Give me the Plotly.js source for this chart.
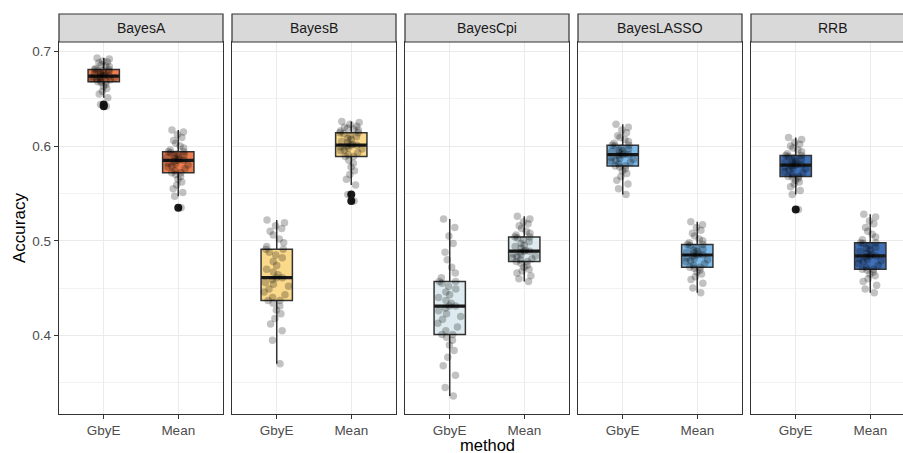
<!DOCTYPE html>
<html>
<head>
<meta charset="utf-8">
<script src="https://cdn.plot.ly/plotly-3.0.1.min.js"></script>
<style>
html,body{margin:0;padding:0;background:#fff;overflow:hidden;width:903px;height:453px;}
#chart{width:915px;height:453px;}
</style>
</head>
<body>
<div id="chart"></div>
<script>
// ---- data ----
const models = ['BayesA', 'BayesB', 'BayesCpi', 'BayesLASSO', 'RRB'];
const methods = ['GbyE', 'Mean'];
const yTickVals = [0.4, 0.5, 0.6, 0.7];
const yTickText = ['0.4', '0.5', '0.6', '0.7'];

const bayesA_GbyE = [0.642,0.644,0.651,0.655,0.658,0.661,0.663,0.665,0.667,0.668,0.668,0.669,0.670,0.671,0.671,0.672,0.672,0.673,0.673,0.674,0.674,0.675,0.676,0.676,0.677,0.678,0.679,0.680,0.680,0.681,0.681,0.682,0.684,0.685,0.686,0.688,0.689,0.690,0.692,0.693];
const bayesA_Mean = [0.535,0.547,0.551,0.555,0.559,0.562,0.565,0.568,0.570,0.572,0.572,0.574,0.576,0.578,0.579,0.580,0.581,0.582,0.584,0.585,0.585,0.586,0.587,0.588,0.589,0.590,0.591,0.592,0.593,0.594,0.594,0.596,0.598,0.600,0.603,0.606,0.609,0.612,0.615,0.617];
const bayesB_GbyE = [0.370,0.395,0.405,0.412,0.418,0.423,0.427,0.431,0.434,0.437,0.437,0.440,0.443,0.446,0.449,0.452,0.454,0.456,0.459,0.461,0.461,0.464,0.467,0.470,0.474,0.478,0.482,0.485,0.488,0.491,0.491,0.494,0.498,0.502,0.506,0.510,0.513,0.516,0.519,0.522];
const bayesB_Mean = [0.542,0.549,0.559,0.565,0.570,0.574,0.578,0.582,0.585,0.589,0.589,0.591,0.593,0.595,0.596,0.597,0.598,0.599,0.600,0.601,0.601,0.602,0.604,0.605,0.607,0.608,0.610,0.611,0.613,0.614,0.614,0.616,0.617,0.618,0.619,0.620,0.621,0.623,0.625,0.626];
const bayesCpi_GbyE = [0.336,0.345,0.358,0.368,0.377,0.384,0.390,0.395,0.398,0.401,0.401,0.405,0.409,0.413,0.417,0.420,0.423,0.426,0.429,0.431,0.431,0.434,0.437,0.440,0.443,0.446,0.449,0.452,0.455,0.457,0.457,0.461,0.466,0.472,0.480,0.488,0.497,0.505,0.514,0.523];
const bayesCpi_Mean = [0.457,0.460,0.463,0.466,0.468,0.470,0.472,0.474,0.476,0.478,0.478,0.480,0.481,0.482,0.483,0.484,0.485,0.486,0.488,0.489,0.489,0.490,0.492,0.494,0.495,0.497,0.499,0.501,0.503,0.504,0.504,0.506,0.508,0.510,0.513,0.516,0.518,0.520,0.523,0.526];
const bayesLASSO_GbyE = [0.549,0.555,0.560,0.564,0.568,0.571,0.574,0.576,0.578,0.579,0.579,0.581,0.583,0.584,0.585,0.586,0.587,0.588,0.590,0.591,0.591,0.592,0.593,0.594,0.595,0.596,0.597,0.598,0.600,0.601,0.601,0.603,0.605,0.607,0.609,0.611,0.614,0.617,0.620,0.623];
const bayesLASSO_Mean = [0.445,0.450,0.455,0.459,0.462,0.465,0.467,0.469,0.471,0.472,0.472,0.474,0.476,0.478,0.479,0.480,0.481,0.482,0.484,0.485,0.485,0.486,0.487,0.488,0.489,0.490,0.491,0.493,0.495,0.496,0.496,0.498,0.500,0.502,0.505,0.508,0.511,0.514,0.517,0.520];
const rrb_GbyE = [0.533,0.549,0.553,0.557,0.560,0.562,0.564,0.566,0.567,0.568,0.568,0.570,0.572,0.573,0.575,0.576,0.577,0.578,0.579,0.580,0.580,0.581,0.582,0.583,0.584,0.585,0.586,0.588,0.589,0.590,0.590,0.592,0.594,0.596,0.598,0.600,0.602,0.604,0.607,0.609];
const rrb_Mean = [0.445,0.449,0.453,0.457,0.460,0.463,0.465,0.467,0.469,0.470,0.470,0.472,0.474,0.476,0.478,0.479,0.480,0.481,0.483,0.484,0.484,0.486,0.487,0.489,0.490,0.492,0.493,0.495,0.497,0.498,0.498,0.501,0.504,0.507,0.510,0.514,0.518,0.521,0.525,0.528];

const groups = [
  [bayesA_GbyE, bayesA_Mean],
  [bayesB_GbyE, bayesB_Mean],
  [bayesCpi_GbyE, bayesCpi_Mean],
  [bayesLASSO_GbyE, bayesLASSO_Mean],
  [rrb_GbyE, rrb_Mean]
];

// ---- styles ----
const fills = ['#EE7E4E', '#FBD98A', '#DDEBF0', '#7DBBEA', '#3E70B8'];
const FONT = '"Liberation Sans", Arial, Helvetica, sans-serif';
const W = 915, H = 453, ML = 59, MR = 0, MT = 42, MB = 39;
const PW = W - ML - MR, PH = H - MT - MB;
const panelW = 164, gap = 9;
const BOXW = 0.42;

function median(a) {
  const s = a.slice().sort((p, q) => p - q);
  const n = s.length;
  return n % 2 ? s[(n - 1) / 2] : (s[n / 2 - 1] + s[n / 2]) / 2;
}

const traces = [];
const layout = {
  width: W, height: H,
  margin: {l: ML, r: MR, t: MT, b: MB, pad: 0},
  paper_bgcolor: '#fff', plot_bgcolor: '#fff',
  showlegend: false,
  boxmode: 'overlay',
  font: {family: FONT, size: 14, color: '#4D4D4D'},
  shapes: [], annotations: []
};

models.forEach((m, i) => {
  const xa = i === 0 ? 'x' : 'x' + (i + 1);
  const ya = i === 0 ? 'y' : 'y' + (i + 1);
  const d0 = (i * (panelW + gap)) / PW;
  const dEnd = (i * (panelW + gap) + panelW) / PW;
  const d1 = Math.min(1, dEnd);

  layout[i === 0 ? 'xaxis' : 'xaxis' + (i + 1)] = {
    domain: [d0, d1], anchor: ya, type: 'category',
    categoryorder: 'array', categoryarray: methods,
    range: [-0.6, 1.6], fixedrange: true,
    showgrid: true, gridcolor: '#EBEBEB', gridwidth: 1,
    showline: true, mirror: true, linecolor: '#333333', linewidth: 1.2,
    ticks: 'outside', ticklen: 3.5, tickwidth: 1.2, tickcolor: '#333333',
    tickfont: {family: FONT, size: 13.5, color: '#4D4D4D'},
    zeroline: false
  };
  layout[i === 0 ? 'yaxis' : 'yaxis' + (i + 1)] = {
    domain: [0, 1], anchor: xa,
    range: [0.317, 0.710], fixedrange: true,
    tickmode: 'array', tickvals: yTickVals, ticktext: yTickText,
    showticklabels: i === 0,
    ticks: i === 0 ? 'outside' : '', ticklen: 4, tickwidth: 1.2, tickcolor: '#333333',
    tickfont: {family: FONT, size: 13.5, color: '#4D4D4D'},
    showgrid: true, gridcolor: '#EBEBEB', gridwidth: 1,
    minor: {tickmode: 'linear', tick0: 0.05, dtick: 0.1, showgrid: true, gridcolor: '#F2F2F2', gridwidth: 1, ticks: ''},
    showline: true, mirror: true, linecolor: '#333333', linewidth: 1.2,
    zeroline: false
  };

  // strip
  layout.shapes.push({
    type: 'rect', xref: 'paper', yref: 'paper',
    x0: d0, x1: dEnd, y0: 1, y1: 1 + 28 / PH,
    fillcolor: '#D9D9D9', line: {color: '#333333', width: 1.2}, layer: 'above'
  });
  layout.annotations.push({
    xref: 'paper', yref: 'paper',
    x: (d0 + dEnd) / 2, y: 1 + 14 / PH,
    xanchor: 'center', yanchor: 'middle', showarrow: false,
    text: m, font: {family: FONT, size: 14, color: '#1A1A1A'}
  });

  methods.forEach((meth, j) => {
    const vals = groups[i][j];
    const xs = vals.map(() => meth);
    // box with outliers
    traces.push({
      type: 'box', x: xs, y: vals, xaxis: xa, yaxis: ya,
      width: BOXW, whiskerwidth: 0,
      boxpoints: 'outliers', pointpos: 0, jitter: 0,
      fillcolor: fills[i],
      line: {color: '#333333', width: 1.5},
      marker: {color: '#1A1A1A', size: 8, line: {width: 0}},
      hoverinfo: 'skip'
    });
    // thick median line
    const md = median(vals);
    traces.push({
      type: 'box', x: [meth], xaxis: xa, yaxis: ya,
      q1: [md], median: [md], q3: [md], lowerfence: [md], upperfence: [md],
      width: BOXW, whiskerwidth: 0, boxpoints: false,
      fillcolor: 'rgba(0,0,0,0)',
      line: {color: '#1A1A1A', width: 3.2},
      hoverinfo: 'skip'
    });
    // jittered points
    traces.push({
      type: 'box', x: xs, y: vals, xaxis: xa, yaxis: ya,
      width: BOXW, whiskerwidth: 0,
      boxpoints: 'all', pointpos: 0, jitter: 0.85,
      fillcolor: 'rgba(0,0,0,0)',
      line: {color: 'rgba(0,0,0,0)', width: 0},
      marker: {color: 'rgba(0,0,0,0.24)', size: 7.5, line: {width: 0}},
      hoverinfo: 'skip'
    });
  });
});

// axis titles
layout.annotations.push({
  xref: 'paper', yref: 'paper', x: (19 - ML) / PW, y: 0.5,
  xanchor: 'center', yanchor: 'middle', showarrow: false, textangle: -90,
  text: 'Accuracy', font: {family: FONT, size: 17, color: '#000000'}
});
layout.annotations.push({
  xref: 'paper', yref: 'paper', x: (487 - ML) / PW, y: -(455 - (H - MB)) / PH,
  xanchor: 'center', yanchor: 'bottom', showarrow: false,
  borderpad: 0,
  text: 'method', font: {family: FONT, size: 16.5, color: '#000000'}
});

Plotly.newPlot('chart', traces, layout, {staticPlot: true, displayModeBar: false});
</script>
</body>
</html>
